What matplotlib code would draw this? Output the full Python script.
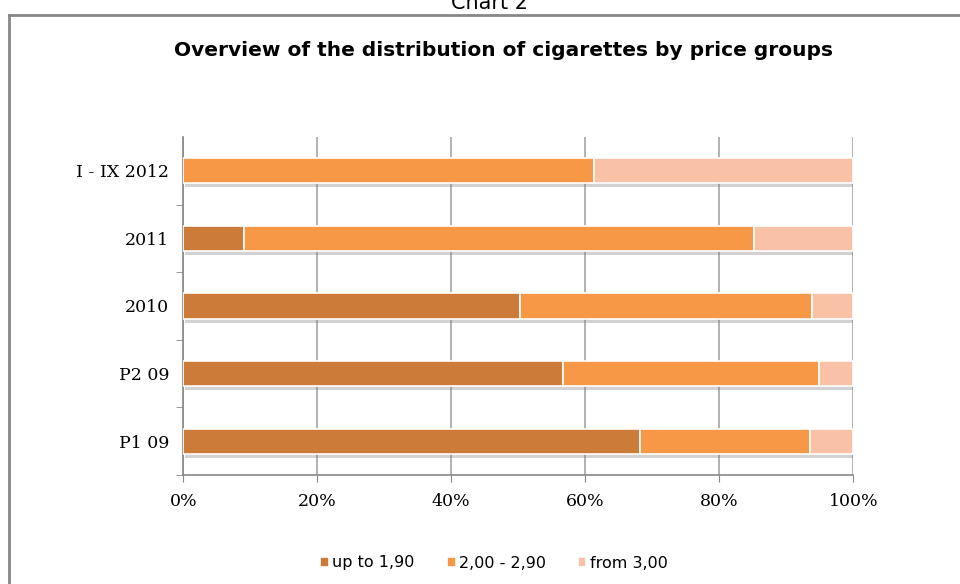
import matplotlib
matplotlib.use("Agg")
import matplotlib.pyplot as plt
from matplotlib import patheffects as pe
from matplotlib.lines import Line2D
import numpy as np

# share of cigarettes per price group (percent)
periods = ["P1 09", "P2 09", "2010", "2011", "I - IX 2012"]
up_to_190 = [68.2, 56.7, 50.2, 9.1, 0.0]
mid_200_290 = [25.4, 38.2, 43.6, 76.1, 61.3]
from_300 = [6.4, 5.1, 6.2, 14.8, 38.7]

groups = ["up to 1,90", "2,00 - 2,90", "from 3,00"]
colors = ["#CD7B39", "#F79846", "#F9C2A6"]

fig = plt.figure(figsize=(9.6, 5.84), dpi=100)
ax = fig.add_axes([183.3 / 960, 1 - 475 / 584, 670 / 960, 338 / 584])

y = np.arange(len(periods))
left = np.zeros(len(periods))
all_bars = []
for vals, name, col in zip([up_to_190, mid_200_290, from_300], groups, colors):
    bars = ax.barh(y, vals, left=left, height=0.37, color=col, edgecolor="white",
                   linewidth=1.2, label=name, zorder=3)
    all_bars.extend(bars)
    left += np.array(vals)

ax.set_xlim(0, 100)
ax.set_ylim(-0.5, len(periods) - 0.5)
ax.set_xticks(np.arange(0, 101, 20))
ax.set_xticklabels([f"{v}%" for v in range(0, 101, 20)], family="DejaVu Serif", fontsize=12.5)
ax.set_yticks(y)
ax.set_yticklabels(periods, family="DejaVu Serif", fontsize=12.5)
ax.tick_params(axis="y", length=0, pad=10)
ax.tick_params(axis="x", length=5, color="#888888", pad=8)
ax.set_yticks(np.arange(-0.5, len(periods) - 1, 1), minor=True)
ax.tick_params(axis="y", which="minor", length=5, color="#888888")
ax.grid(axis="x", color="#a6a6a6", linewidth=1.2, zorder=0)
for s in ["top", "right"]:
    ax.spines[s].set_visible(False)
for s in ["left", "bottom"]:
    ax.spines[s].set_color("#888888")
    ax.spines[s].set_linewidth(1.2)

fig.text(503 / 960, 1 - 50 / 584, "Overview of the distribution of cigarettes by price groups",
         ha="center", va="center", fontsize=14.5, fontweight="bold")
fig.text(490 / 960, 1 - 13 / 584, "Chart 2", ha="center", va="bottom", fontsize=15)

leg = fig.legend(loc="center", bbox_to_anchor=(494 / 960, 1 - 563 / 584), ncol=3, frameon=False,
                 fontsize=11.5, handlelength=0.55, handleheight=0.55, handletextpad=0.2,
                 columnspacing=2.0)

# soft drop shadow under the bars, added after the legend so the keys stay flat
shadow = [pe.SimplePatchShadow(offset=(1.5, -3), shadow_rgbFace="#7f7f7f", alpha=0.35), pe.Normal()]
for b in all_bars:
    b.set_path_effects(shadow)

# outer chart frame
fig.add_artist(Line2D([9 / 960, 9 / 960], [0, 1 - 15 / 584], color="#888888", linewidth=2))
fig.add_artist(Line2D([9 / 960, 1], [1 - 15 / 584, 1 - 15 / 584], color="#888888", linewidth=2))

fig.savefig("out.png", dpi=100)
